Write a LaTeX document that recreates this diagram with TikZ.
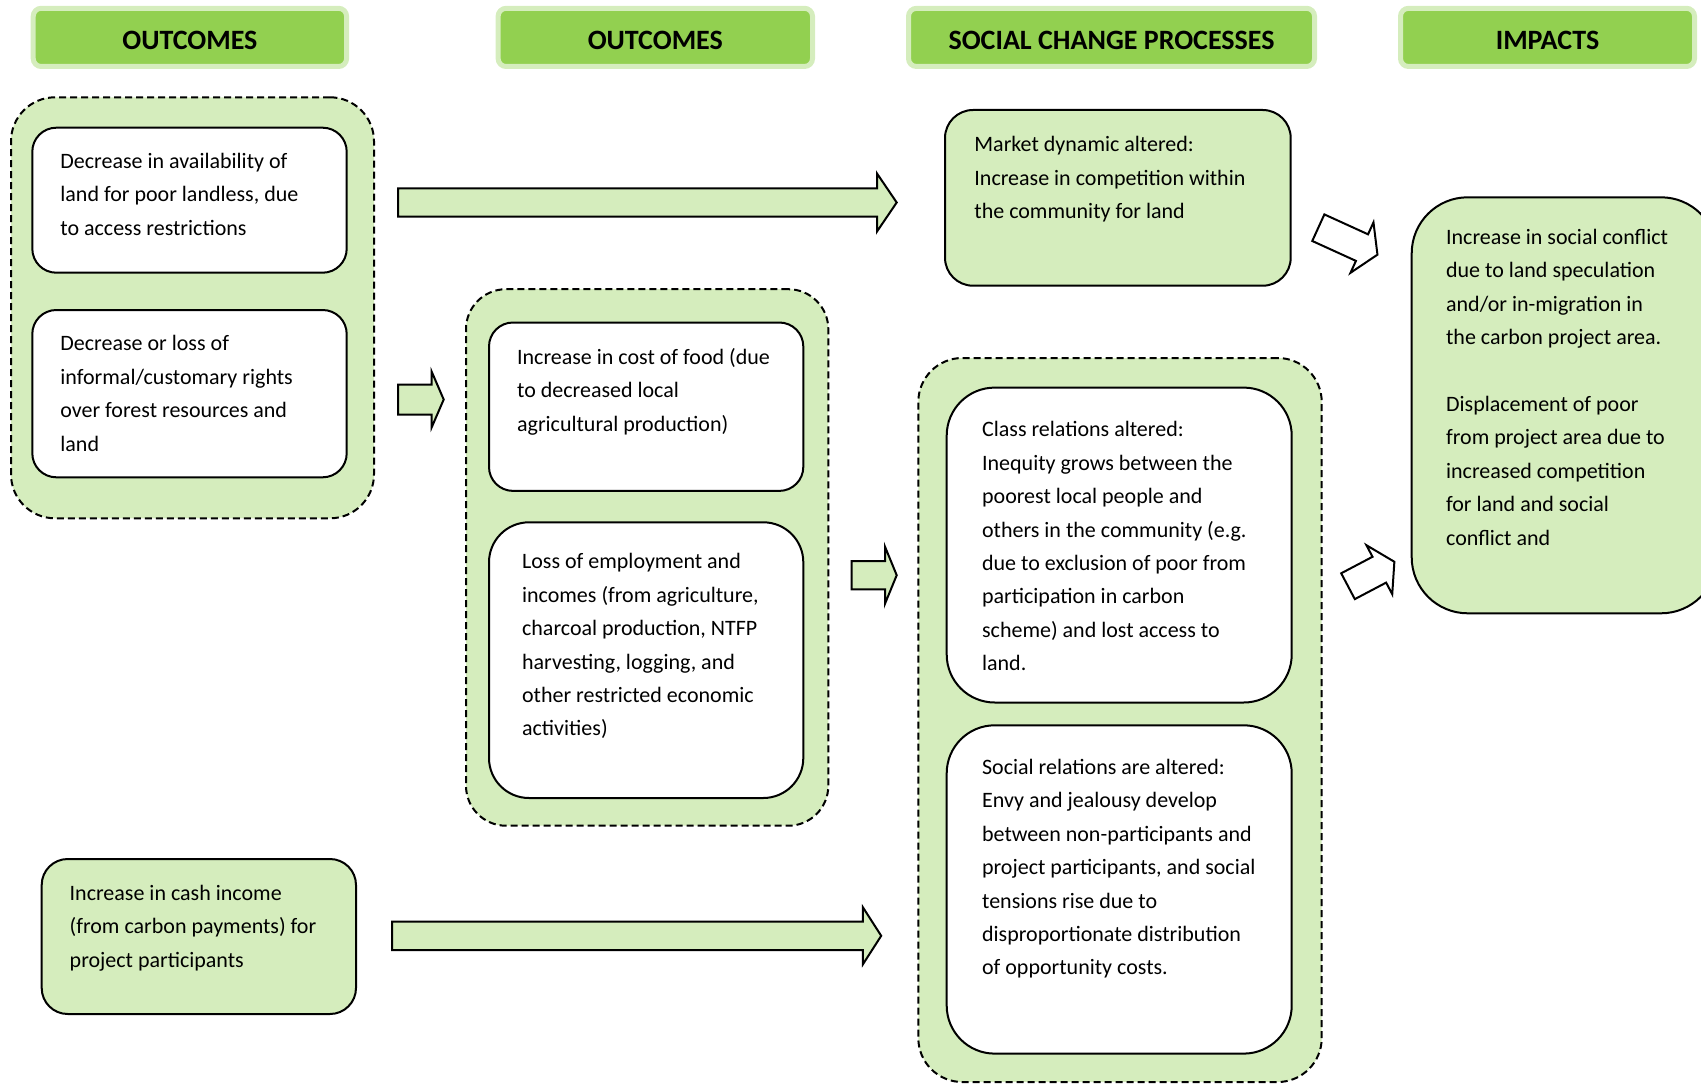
\documentclass[tikz,border=0pt]{standalone}
\usepackage{fontspec}
\setmainfont{Carlito}
\usetikzlibrary{fit}

\definecolor{palegreen}{HTML}{D5EDBD}
\definecolor{hdrgreen}{HTML}{92D050}

\tikzset{
  hdr/.style={draw=palegreen, line width=2.5pt, fill=hdrgreen, rounded corners=4pt,
    inner sep=0pt, minimum height=29.1pt, font=\fontsize{14}{16}\selectfont\bfseries,
    text height=12.6pt, text depth=0pt},
  grp/.style={draw, line width=1pt, dash pattern=on 3.5pt off 2pt, fill=palegreen, inner sep=0pt},
  wbox/.style={draw, line width=1pt, fill=white, inner sep=0pt},
  gbox/.style={draw, line width=1pt, fill=palegreen, inner sep=0pt},
  txt/.style={anchor=north west, inner sep=0pt, align=left, font=\fontsize{11}{16.7}\selectfont,
    execute at begin node=\strut},
  blk/.style={draw, line width=1pt, fill=palegreen, line join=miter},
  hollow/.style={draw, line width=1pt, fill=white, line join=miter}
}

\begin{document}
\begin{tikzpicture}[x=0.5pt, y=-0.5pt]
\useasboundingbox (0,0) rectangle (1701,1086);

% column headers
\node[hdr, minimum width=156.7pt] (hdrout1) at (189.9,37.4) {OUTCOMES};
\node[hdr, minimum width=157.2pt] (hdrout2) at (655.3,37.4) {OUTCOMES};
\node[hdr, minimum width=203pt] (hdrproc) at (1111.5,37.4) {SOCIAL CHANGE PROCESSES};
\node[hdr, minimum width=147pt] (hdrimp) at (1547.5,37.4) {IMPACTS};

% first column
\node[grp, rounded corners=22pt, fit={(11,97.3)(374,518.3)}] (grpA) {};
\node[wbox, rounded corners=12pt, fit={(32.3,127.7)(346.7,272.7)}] (avail) {};
\node[txt] (availtxt) at (60,152.9) {Decrease in availability of\\land for poor landless, due\\to access restrictions};
\node[wbox, rounded corners=12pt, fit={(32.3,310)(346.7,477.3)}] (rights) {};
\node[txt] (rightstxt) at (60,335.3) {Decrease or loss of\\informal/customary rights\\over forest resources and\\land};

\node[gbox, rounded corners=13pt, fit={(41.7,859)(356,1014)}] (cash) {};
\node[txt] (cashtxt) at (69.3,884.6) {Increase in cash income\\(from carbon payments) for\\project participants};

% second column
\node[grp, rounded corners=20pt, fit={(466,289.2)(828.3,825.7)}] (grpB) {};
\node[wbox, rounded corners=12pt, fit={(489,322.5)(803.3,490.9)}] (food) {};
\node[txt] (foodtxt) at (516.7,347.8) {Increase in cost of food (due\\to decreased local\\agricultural production)};
\node[wbox, rounded corners=20pt, fit={(489,522.3)(803.3,798)}] (jobs) {};
\node[txt] (jobstxt) at (521.7,553.2) {Loss of employment and\\incomes (from agriculture,\\charcoal production, NTFP\\harvesting, logging, and\\other restricted economic\\activities)};

% social change processes
\node[gbox, rounded corners=14pt, fit={(945,110)(1290.7,285.7)}] (market) {};
\node[txt] (markettxt) at (974,136.3) {Market dynamic altered:\\Increase in competition within\\the community for land};
\node[grp, rounded corners=22pt, fit={(918.3,358)(1321.7,1082)}] (grpC) {};
\node[wbox, rounded corners=24pt, fit={(946.7,387.6)(1291.7,702.5)}] (classrel) {};
\node[txt] (classreltxt) at (981.7,421.2) {Class relations altered:\\Inequity grows between the\\poorest local people and\\others in the community (e.g.\\due to exclusion of poor from\\participation in carbon\\scheme) and lost access to\\land.};
\node[wbox, rounded corners=24pt, fit={(946.7,725.3)(1291.7,1053.6)}] (socrel) {};
\node[txt] (socreltxt) at (981.7,758.9) {Social relations are altered:\\Envy and jealousy develop\\between non-participants and\\project participants, and social\\tensions rise due to\\disproportionate distribution\\of opportunity costs.};

% impacts
\node[gbox, rounded corners=28pt, fit={(1411.7,197.3)(1717,613.3)}] (impacts) {};
\node[txt] (impactstxt) at (1445.7,228.9) {Increase in social conflict\\due to land speculation\\and/or in-migration in\\the carbon project area.\\[16.7pt]Displacement of poor\\from project area due to\\increased competition\\for land and social\\conflict and};

% block arrows
\draw[blk] (398,188.3) -- (877,188.3) -- (877,173.5) -- (896.7,202.5) -- (877,231.5) -- (877,216.7) -- (398,216.7) -- cycle;
\draw[blk] (398,384.5) -- (431.7,384.5) -- (431.7,371.7) -- (443.7,399.5) -- (431.7,427.3) -- (431.7,414.5) -- (398,414.5) -- cycle;
\draw[blk] (851.7,561) -- (885,561) -- (885,546.7) -- (896.7,575.2) -- (885,603.7) -- (885,589.4) -- (851.7,589.4) -- cycle;
\draw[blk] (392,921.7) -- (862.9,921.7) -- (862.9,907.3) -- (881.2,935.8) -- (862.9,964.3) -- (862.9,950) -- (392,950) -- cycle;

\begin{scope}[shift={(1318.3,227.7)}, rotate=-24.5]
  \draw[hollow] (0,-14.6) -- (48,-14.6) -- (48,-27.7) -- (65,0) -- (48,27.7) -- (48,14.6) -- (0,14.6) -- cycle;
\end{scope}
\begin{scope}[shift={(1348,586.2)}, rotate=27.8]
  \draw[hollow] (0,-14.6) -- (35.4,-14.6) -- (35.4,-27.7) -- (52.4,0) -- (35.4,27.7) -- (35.4,14.6) -- (0,14.6) -- cycle;
\end{scope}
\end{tikzpicture}
\end{document}
